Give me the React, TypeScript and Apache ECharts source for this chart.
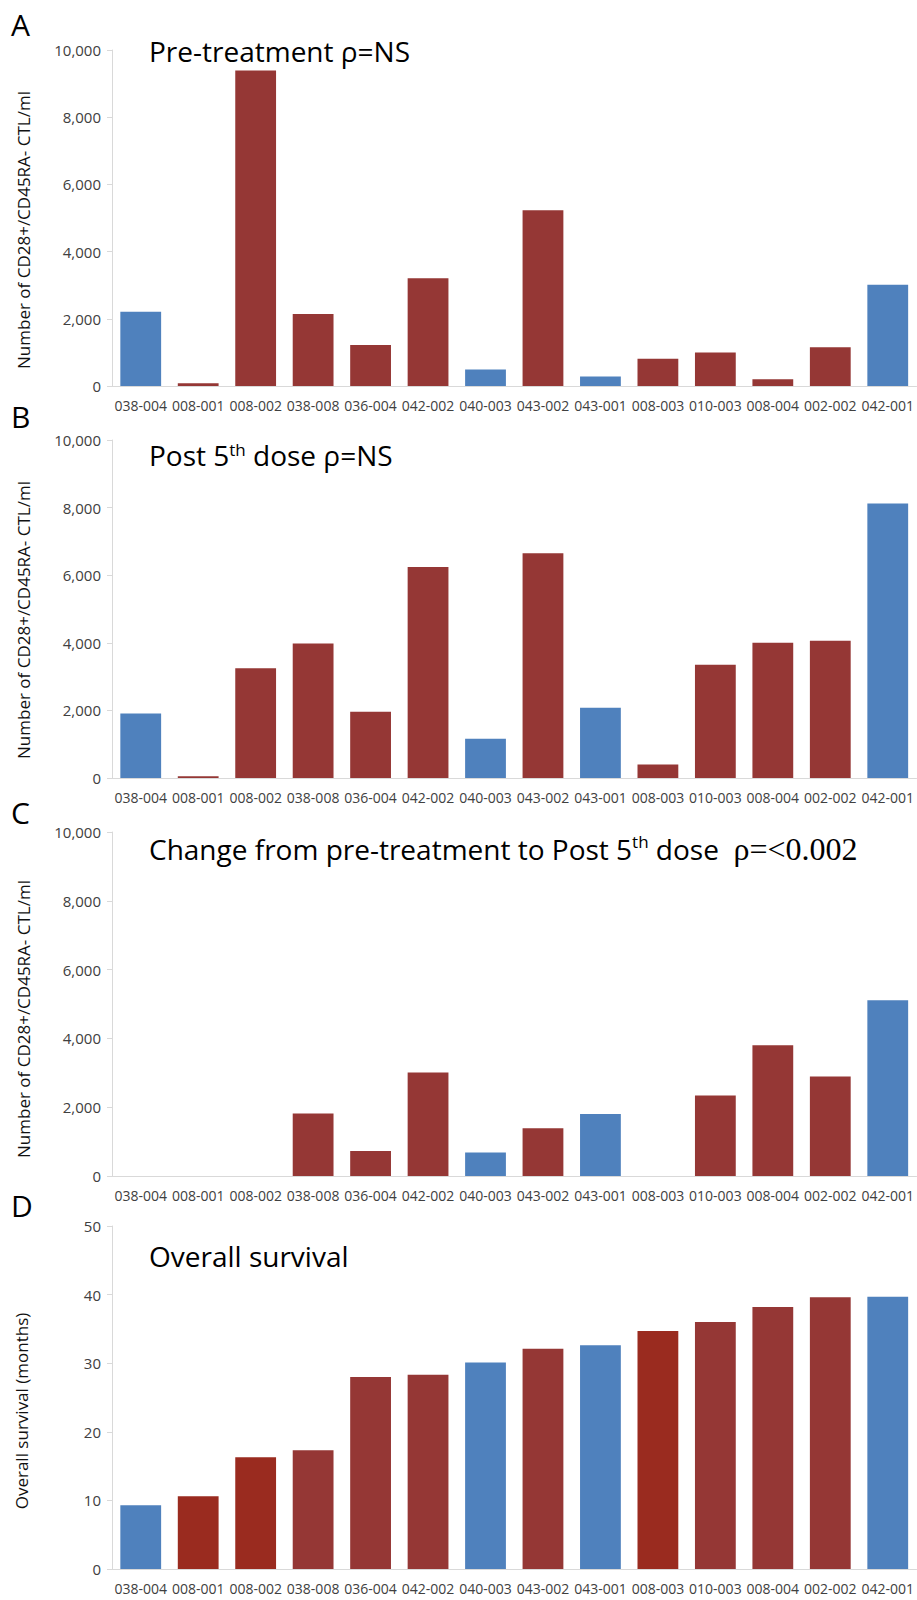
import React, { useEffect, useRef } from "react";
import * as echarts from "echarts";

// Patients (category axis)
const patients = [
  "038-004", "008-001", "008-002", "038-008", "036-004", "042-002", "040-003",
  "043-002", "043-001", "008-003", "010-003", "008-004", "002-002", "042-001",
];

// Panel A: pre-treatment CD28+/CD45RA- CTL/ml
const preTreatment = [2210, 80, 9390, 2140, 1220, 3210, 490, 5230, 280, 810, 1000, 200, 1150, 3010];
// Panel B: post 5th dose
const post5thDose = [1910, 50, 3250, 3980, 1960, 6240, 1160, 6650, 2080, 400, 3350, 4000, 4060, 8120];
// Panel C: change from pre-treatment to post 5th dose
const changePrePost = [0, 0, 0, 1820, 730, 3010, 680, 1390, 1800, 0, 2340, 3800, 2890, 5110];
// Panel D: overall survival (months)
const overallSurvival = [9.3, 10.6, 16.3, 17.3, 28.0, 28.3, 30.1, 32.1, 32.6, 34.7, 36.0, 38.2, 39.6, 39.7];

// Colour groups per patient
const cellGroups = ["blue", "red", "red", "red", "red", "red", "blue", "red", "blue", "red", "red", "red", "red", "blue"];
const survivalGroups = ["blue", "bright", "bright", "red", "red", "red", "blue", "red", "blue", "bright", "red", "red", "red", "blue"];

// Axis ranges
const countAxis = { min: 0, max: 10000, interval: 2000 };
const survivalAxis = { min: 0, max: 50, interval: 10 };

const COLORS: Record<string, string> = {
  blue: "#4F81BD",
  red: "#953735",
  bright: "#9A2B1F",
};

const FONT = "'Open Sans', 'Noto Sans', sans-serif";
const GRID_LEFT = 112;
const GRID_W = 805;

const panels = [
  { top: 50, height: 336, data: preTreatment, groups: cellGroups, axis: countAxis },
  { top: 440, height: 338, data: post5thDose, groups: cellGroups, axis: countAxis },
  { top: 832, height: 344, data: changePrePost, groups: cellGroups, axis: countAxis },
  { top: 1226, height: 343, data: overallSurvival, groups: survivalGroups, axis: survivalAxis },
];

function App() {
  const ref = useRef<HTMLDivElement>(null);

  useEffect(() => {
    if (!ref.current) return;
    const chart = echarts.init(ref.current, undefined, { renderer: "svg" });

    const grid = panels.map((p) => ({
      left: GRID_LEFT,
      top: p.top,
      width: GRID_W,
      height: p.height,
      containLabel: false,
    }));

    const xAxis = panels.map((p, i) => ({
      type: "category",
      gridIndex: i,
      data: patients,
      axisLine: { show: true, lineStyle: { color: "#D9D9D9", width: 1 } },
      axisTick: { show: false },
      axisLabel: {
        interval: 0,
        margin: 12,
        color: "#404040",
        fontFamily: FONT,
        fontSize: 14,
      },
    }));

    const yAxis = panels.map((p, i) => ({
      type: "value",
      gridIndex: i,
      min: p.axis.min,
      max: p.axis.max,
      interval: p.axis.interval,
      splitLine: { show: false },
      axisLine: { show: true, lineStyle: { color: "#D9D9D9", width: 1 } },
      axisTick: { show: true, length: 5, lineStyle: { color: "#D9D9D9" } },
      axisLabel: {
        margin: 11,
        color: "#404040",
        fontFamily: FONT,
        fontSize: 15,
        formatter: (v: number) => v.toLocaleString("en-US"),
      },
    }));

    const series = panels.map((p, i) => ({
      type: "bar",
      xAxisIndex: i,
      yAxisIndex: i,
      barCategoryGap: "29%",
      data: p.data.map((v, j) => ({
        value: v,
        itemStyle: { color: COLORS[p.groups[j]] },
      })),
    }));

    const letter = (t: string, x: number, y: number) => ({
      type: "text",
      x,
      y,
      style: { text: t, fontFamily: FONT, fontSize: 30, fill: "#000", textVerticalAlign: "middle" },
    });

    const yName = (t: string, x: number, y: number) => ({
      type: "text",
      x,
      y,
      rotation: Math.PI / 2,
      style: {
        text: t,
        fontFamily: FONT,
        fontSize: 17,
        fill: "#111",
        textAlign: "center",
        textVerticalAlign: "middle",
      },
    });

    const titleRich = {
      a: { fontFamily: FONT, fontSize: 28, fill: "#000", color: "#000" },
      s: { fontFamily: FONT, fontSize: 17, fill: "#000", color: "#000", verticalAlign: "top" },
      t: { fontFamily: "'Liberation Serif', 'Times New Roman', serif", fontSize: 32, fill: "#000", color: "#000" },
    };

    const title = (text: string, x: number, y: number) => ({
      type: "text",
      x,
      y,
      style: {
        text,
        rich: titleRich,
        fontFamily: FONT,
        fontSize: 28,
        fill: "#000",
        textVerticalAlign: "middle",
      },
    });

    const graphic = [
      letter("A", 11, 24),
      letter("B", 11, 416),
      letter("C", 11, 812),
      letter("D", 11, 1205),
      title("{a|Pre-treatment ρ=NS}", 149, 51),
      title("{a|Post 5}{s|th}{a| dose ρ=NS}", 149, 455),
      title("{a|Change from pre-treatment to Post 5}{s|th}{a| dose  }{t|ρ=<0.002}", 149, 849),
      title("{a|Overall survival}", 149, 1256),
      yName("Number of CD28+/CD45RA- CTL/ml", 23, 230),
      yName("Number of CD28+/CD45RA- CTL/ml", 23, 620),
      yName("Number of CD28+/CD45RA- CTL/ml", 23, 1019),
      yName("Overall survival (months)", 21, 1411),
    ];

    chart.setOption({
      animation: false,
      backgroundColor: "#ffffff",
      grid,
      xAxis,
      yAxis,
      series,
      graphic,
    });

    return () => chart.dispose();
  }, []);

  return (
    <div
      ref={ref}
      style={{ position: "absolute", left: 0, top: 0, width: 917, height: 1600 }}
    />
  );
}

export default App;
